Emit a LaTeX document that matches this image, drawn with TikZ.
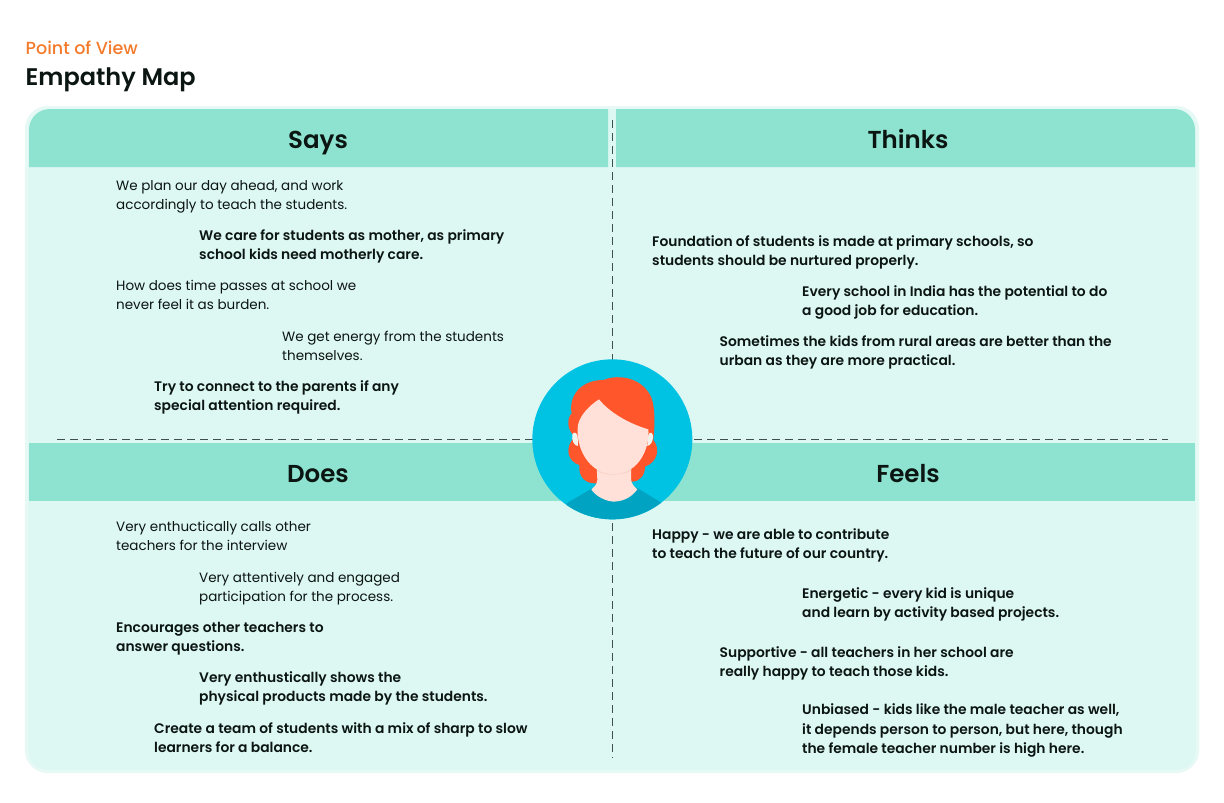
\documentclass[tikz,border=0pt]{standalone}
\usepackage{fontspec}
\setmainfont{Poppins}
\newfontfamily\medf{Poppins Medium}
\newfontfamily\semif{Poppins SemiBold}
\definecolor{panel}{HTML}{DDF7F3}
\definecolor{panelEdge}{HTML}{E6F9F5}
\definecolor{head}{HTML}{8DE3D0}
\definecolor{orangeT}{HTML}{F47B2C}
\definecolor{inkT}{HTML}{0B1512}
\definecolor{dashC}{HTML}{3F4F4E}
\definecolor{sky}{HTML}{00C2E3}
\definecolor{shirt}{HTML}{00A3C2}
\definecolor{hair}{HTML}{FF562B}
\definecolor{skin}{HTML}{FFE1D9}
\definecolor{skinD}{HTML}{F9D3C8}
\definecolor{earC}{HTML}{F3F3EE}
\tikzset{
 x=1pt,y=-1pt,
 txt/.style={anchor=base west,inner sep=0pt,yshift=-.7pt,align=left,font=\fontsize{13.5}{19.4}\selectfont,text=inkT},
 bld/.style={anchor=base west,inner sep=0pt,yshift=-.7pt,align=left,font=\fontsize{13.85}{19.4}\selectfont\semif,text=inkT},
 headT/.style={anchor=base,inner sep=0pt,font=\fontsize{24.5}{28}\selectfont\semif,text=inkT},
 dashline/.style={draw=dashC,line width=.9pt,dash pattern=on 8pt off 5pt}
}
\begin{document}
\begin{tikzpicture}
\useasboundingbox (0,0) rectangle (1224,803);
\fill[white] (0,0) rectangle (1224,803);
\node[anchor=base west,inner sep=0pt,font=\fontsize{17.5}{18}\selectfont\medf,text=orangeT] (kicker) at (25.5,54) {Point of View};
\node[anchor=base west,inner sep=0pt,font=\fontsize{24}{28}\selectfont\semif,text=inkT] (title) at (25.5,85) {Empathy Map};
\draw[fill=panel,draw=panelEdge,line width=3pt]
  (26.5,128.5) arc[start angle=180,end angle=270,radius=21] -- (1176.5,107.5)
  arc[start angle=270,end angle=360,radius=21] -- (1197.5,750.5)
  arc[start angle=0,end angle=90,radius=21] -- (47.5,771.5)
  arc[start angle=90,end angle=180,radius=21] -- cycle;
\fill[head] (29,167) -- (29,130) arc[start angle=180,end angle=270,radius=21] -- (608,109) -- (608,167) -- cycle;
\fill[head] (616,167) -- (616,109) -- (1174,109) arc[start angle=270,end angle=360,radius=21] -- (1195,167) -- cycle;
\fill[head] (29,443) rectangle (1195,501);
\draw[dashline] (612,120) -- (612,758);
\draw[dashline] (57,439) -- (1168,439);
\node[headT] (says) at (318,148.3) {Says};
\node[headT] (thinks) at (908,148.3) {Thinks};
\node[headT] (does) at (318,482.3) {Does};
\node[headT] (feels) at (908,482.3) {Feels};
% Says
\node[txt] (s1) at (116,209) {We plan our day ahead, and work\\accordingly to teach the students.};
\node[bld] (s2) at (199,259) {We care for students as mother, as primary\\school kids need motherly care.};
\node[txt] (s3) at (116,309) {How does time passes at school we\\never feel it as burden.};
\node[txt] (s4) at (282,360) {We get energy from the students\\themselves.};
\node[bld] (s5) at (154,410) {Try to connect to the parents if any\\special attention required.};
% Thinks
\node[bld] (t1) at (652,265) {Foundation of students is made at primary schools, so\\students should be nurtured properly.};
\node[bld] (t2) at (802,315) {Every school in India has the potential to do\\a good job for education.};
\node[bld] (t3) at (719.5,365) {Sometimes the kids from rural areas are better than the\\urban as they are more practical.};
% Does
\node[txt] (d1) at (116,550) {Very enthuctically calls other\\teachers for the interview};
\node[txt] (d2) at (199,601) {Very attentively and engaged\\participation for the process.};
\node[bld] (d3) at (116,651) {Encourages other teachers to\\answer questions.};
\node[bld] (d4) at (199,701) {Very enthustically shows the\\physical products made by the students.};
\node[bld] (d5) at (154,752) {Create a team of students with a mix of sharp to slow\\learners for a balance.};
% Feels
\node[bld] (f1) at (652,558) {Happy - we are able to contribute\\to teach the future of our country.};
\node[bld] (f2) at (802,617) {Energetic - every kid is unique\\and learn by activity based projects.};
\node[bld] (f3) at (719.5,676) {Supportive - all teachers in her school are\\really happy to teach those kids.};
\node[bld] (f4) at (802,753) {Unbiased - kids like the male teacher as well,\\it depends person to person, but here, though\\the female teacher number is high here.};
% Avatar
\begin{scope}[shift={(500,340)},scale=1/3]
\fill[sky] (337,298) circle[radius=240];
\begin{scope}
\clip (337,298) circle[radius=240];
\fill[shirt] (200,490) -- (280,443) -- (410,443) -- (484,488) -- (484,560) -- (200,560) -- cycle;
\end{scope}
% hair back
\fill[hair] (225,290) .. controls (200,270) and (200,235) .. (215,220)
  .. controls (205,165) and (245,120) .. (310,120)
  .. controls (360,100) and (430,115) .. (455,175)
  .. controls (465,205) and (465,250) .. (460,300)
  .. controls (480,325) and (475,365) .. (435,380)
  .. controls (435,405) and (420,425) .. (395,425)
  -- (290,430)
  .. controls (255,432) and (235,410) .. (238,375)
  .. controls (205,365) and (190,325) .. (225,290) -- cycle;
% neck
\fill[skin] (290,380) -- (292,420) .. controls (290,435) and (282,442) .. (274,449)
  .. controls (295,478) and (335,488) .. (350,484) .. controls (375,482) and (398,468) .. (412,448)
  .. controls (402,440) and (394,430) .. (393,418) -- (393,380) -- cycle;
\fill[skinD] (290,385) -- (291,392) .. controls (310,408) and (370,408) .. (393,392) -- (393,380) -- cycle;
% ears
\fill[earC] (217,283) .. controls (222,272) and (232,280) .. (233,290) -- (234,318) .. controls (222,318) and (214,300) .. (217,283) -- cycle;
\fill[earC] (445,285) .. controls (450,272) and (460,278) .. (459,292) .. controls (458,305) and (452,316) .. (442,318) -- cycle;
% face
\fill[skin] (297,178) .. controls (335,225) and (400,255) .. (445,268)
  .. controls (450,320) and (420,402) .. (340,402)
  .. controls (265,402) and (225,320) .. (234,255)
  .. controls (240,225) and (270,195) .. (297,178) -- cycle;
\end{scope}
\end{tikzpicture}
\end{document}
